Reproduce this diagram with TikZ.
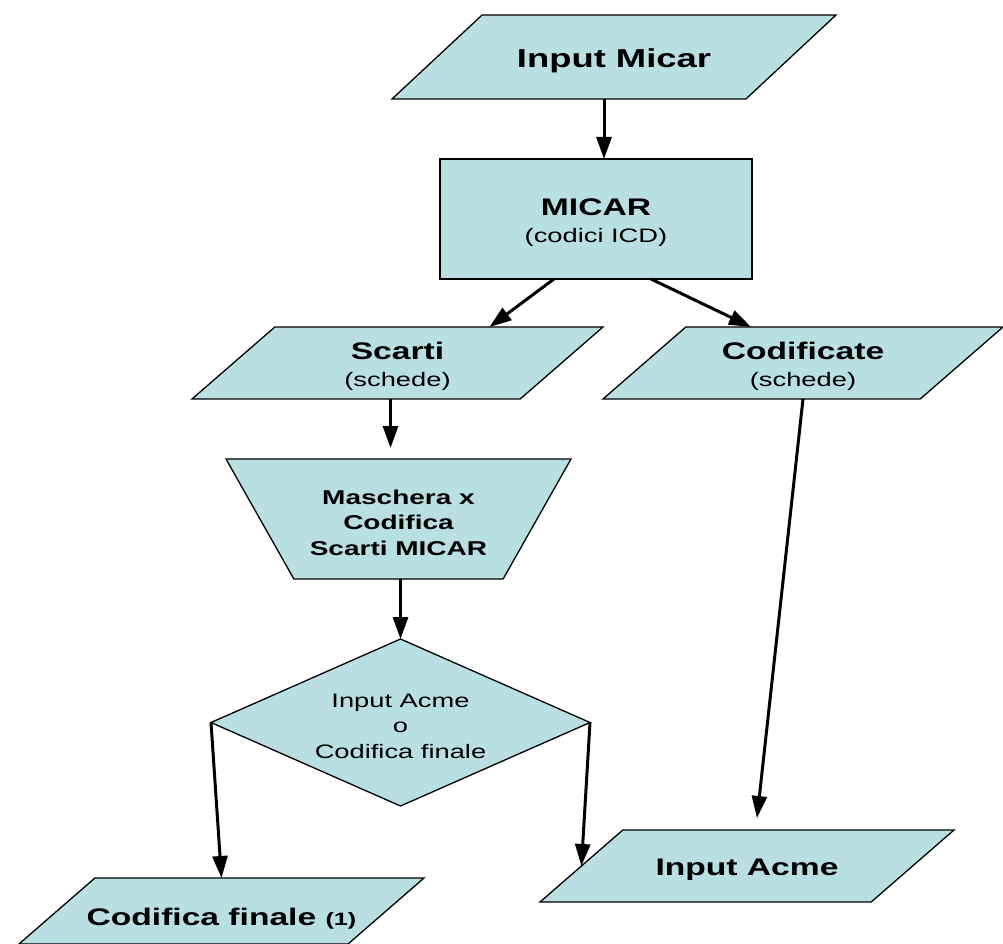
\documentclass[tikz,border=0pt]{standalone}
\usepackage{fontspec}
\setmainfont{Liberation Sans}[FakeStretch=1.4]
\usetikzlibrary{shapes.geometric,arrows.meta}
\definecolor{boxfill}{RGB}{185,223,226}

\begin{document}
\begin{tikzpicture}[x=1pt,y=-1pt,
  box/.style={draw, fill=boxfill, line width=1.3pt, inner sep=0pt, outer sep=0pt},
  io/.style={box, trapezium, trapezium stretches body, trapezium left angle=41, trapezium right angle=139},
  lbl/.style={align=center, inner sep=0pt, yshift=-3.5pt, font=\fontsize{19.5}{26.5}\selectfont},
  arr/.style={-{Triangle[length=22pt,width=15pt]}, line width=3pt}]
\useasboundingbox (0,0) rectangle (1003,944);

% boxes
\node[io, trapezium left angle=43, trapezium right angle=137, inner ysep=42pt, minimum width=444pt]
  (inmicar) at (614,57) {};
\node[box, rectangle, minimum width=312pt, minimum height=120pt] (micar) at (596,219) {};
\node[io, inner ysep=36pt, minimum width=411pt] (scarti) at (397.5,363) {};
\node[io, inner ysep=36pt, minimum width=400pt] (codif) at (803,363) {};
\node[box, trapezium, trapezium stretches body, trapezium left angle=119.5, trapezium right angle=119.5,
      inner ysep=60pt, minimum width=345pt] (masch) at (398.5,519) {};
\node[box, diamond, aspect=2.27, minimum width=379pt, minimum height=167pt] (dec) at (400.5,722.5) {};
\node[io, inner ysep=36pt, minimum width=414pt] (inacme) at (747,866) {};
\node[io, inner ysep=33pt, minimum width=405pt] (cfin) at (221.5,911) {};

% texts
\node[lbl, font=\fontsize{26}{30}\selectfont\bfseries] (inmicarT) at (inmicar) {Input Micar};
\node[lbl] (micarT) at (micar) {{\bfseries\fontsize{24}{26.5}\selectfont MICAR}\\(codici ICD)};
\node[lbl] (scartiT) at (scarti) {{\bfseries\fontsize{24}{26.5}\selectfont Scarti}\\(schede)};
\node[lbl] (codifT) at (codif) {{\bfseries\fontsize{24}{26.5}\selectfont Codificate}\\(schede)};
\node[lbl, font=\fontsize{20}{25.5}\selectfont\bfseries] (maschT) at (masch) {Maschera x\\Codifica\\Scarti MICAR};
\node[lbl, font=\fontsize{19.5}{25.5}\selectfont] (decT) at (dec) {Input Acme\\o\\Codifica finale};
\node[lbl, font=\fontsize{24}{28}\selectfont\bfseries] (inacmeT) at (inacme) {Input Acme};
\node[lbl, font=\fontsize{24}{28}\selectfont\bfseries] (cfinT) at ([yshift=-4pt]cfin.center)
  {Codifica finale {\fontsize{18}{20}\selectfont(1)}};

% arrows
\draw[arr] ([xshift=-10pt]inmicar.south) -- ([xshift=8pt]micar.north);
\draw[arr] ([xshift=-42pt]micar.south) -- ([xshift=92pt]scarti.north);
\draw[arr] ([xshift=55pt]micar.south) -- ([xshift=-52pt]codif.north);
\draw[arr] ([xshift=-7pt]scarti.south) -- ([xshift=-8pt,yshift=11pt]masch.north);
\draw[arr] ([xshift=2pt]masch.south) -- (dec.north);
\draw[arr] (dec.west) -- (cfin.north);
\draw[arr] (dec.east) -- (inacme.left side);
\draw[arr] (codif.south) -- ([xshift=10pt,yshift=12pt]inacme.north);
\end{tikzpicture}
\end{document}
